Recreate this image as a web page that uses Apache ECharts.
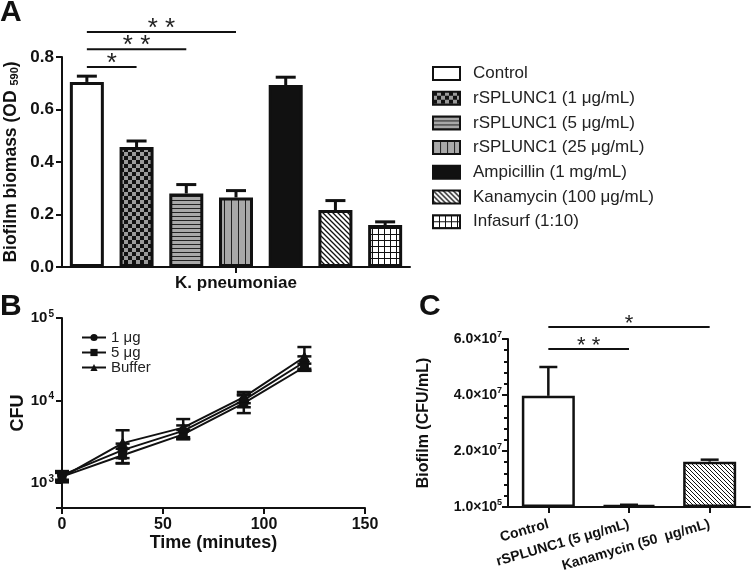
<!DOCTYPE html>
<html>
<head>
<meta charset="utf-8">
<script src="https://cdn.jsdelivr.net/npm/echarts@6/dist/echarts.min.js"></script>
<style>
  html, body { margin: 0; padding: 0; background: #fff; }
  #chart { width: 751px; height: 579px; }
</style>
</head>
<body>
<div id="chart"></div>
<script>
// ---- panel A : biofilm biomass ----
var groupsA = ['Control', 'rSPLUNC1 (1 μg/mL)', 'rSPLUNC1 (5 μg/mL)', 'rSPLUNC1 (25 μg/mL)',
               'Ampicillin (1 mg/mL)', 'Kanamycin (100 μg/mL)', 'Infasurf (1:10)'];
var meansA = [0.705, 0.457, 0.28, 0.265, 0.693, 0.217, 0.16];
var errA   = [0.022, 0.023, 0.034, 0.026, 0.030, 0.036, 0.012];
var sigA   = [[0, 1.3, 0.762, '*'], [0, 2.3, 0.83, '* *'], [0, 3.3, 0.895, '* *']];

// ---- panel B : growth curve ----
var timesB  = [0, 30, 60, 90, 120];
var namesB  = ['1 μg', '5 μg', 'Buffer'];
var cfu1    = [1250, 2510, 4300, 10100, 29300];
var cfu5    = [1200, 2180, 3900, 9300, 25500];
var cfuBuf  = [1180, 3050, 4700, 11000, 33700];
var err1    = [150, 500, 700, 1800, 5000];
var err5    = [170, 430, 500, 2250, 2500];
var errBuf  = [150, 1320, 1270, 1700, 10800];

// ---- panel C : biofilm CFU ----
var catsC  = ['Control', 'rSPLUNC1 (5 μg/mL)', 'Kanamycin (50  μg/mL)'];
var meansC = [3.97e7, 7e5, 1.62e7];
var errC   = [1.03e7, 1e5, 7e5];
var sigC   = [[0, 1.1, 5.64e7, '* *'], [0, 2, 6.43e7, '*']];

var FONT = 'Liberation Sans, Arial, sans-serif';

function tile(w, h, draw) {
  var c = document.createElement('canvas');
  c.width = w; c.height = h;
  var g = c.getContext('2d');
  draw(g, w, h);
  return { image: c, repeat: 'repeat' };
}
var patChecker = tile(8, 8, function (g) {
  g.fillStyle = '#9a9a9a'; g.fillRect(0, 0, 8, 8);
  g.fillStyle = '#111'; g.fillRect(0, 0, 4, 4); g.fillRect(4, 4, 4, 4);
});
var patH = tile(4, 4, function (g) {
  g.fillStyle = '#a8a8a8'; g.fillRect(0, 0, 4, 4);
  g.fillStyle = '#222'; g.fillRect(0, 0, 4, 1);
});
var patV = tile(7, 7, function (g) {
  g.fillStyle = '#a8a8a8'; g.fillRect(0, 0, 7, 7);
  g.fillStyle = '#222'; g.fillRect(0, 0, 1, 7);
});
function diag(step, lw) {
  return tile(step, step, function (g, w, h) {
    g.fillStyle = '#fff'; g.fillRect(0, 0, w, h);
    g.strokeStyle = '#111'; g.lineWidth = lw;
    g.beginPath();
    g.moveTo(-1, -1); g.lineTo(w + 1, h + 1);
    g.moveTo(-1, h - 1); g.lineTo(1, h + 1);
    g.moveTo(w - 1, -1); g.lineTo(w + 1, 1);
    g.stroke();
  });
}
var patGrid = tile(6, 6, function (g) {
  g.fillStyle = '#fff'; g.fillRect(0, 0, 6, 6);
  g.fillStyle = '#111'; g.fillRect(0, 0, 6, 1); g.fillRect(0, 0, 1, 6);
});
var fillsA = ['#ffffff', patChecker, patH, patV, '#111111', diag(5, 1.3), patGrid];

function sup(base, exp) { return '{b|' + base + '}{s|' + exp + '}'; }

var chart = echarts.init(document.getElementById('chart'));

var series = [];
groupsA.forEach(function (name, i) {
  series.push({
    type: 'bar', name: name, xAxisIndex: 1, yAxisIndex: 0,
    data: groupsA.map(function (_, j) { return j === i ? meansA[i] : '-'; }),
    barWidth: 34, barGap: '-100%',
    itemStyle: { color: fillsA[i], borderColor: '#111', borderWidth: 3 },
    silent: true
  });
});
series.push({
  type: 'custom', xAxisIndex: 1, yAxisIndex: 0, z: 1,
  data: meansA.map(function (m, i) { return [i, m, errA[i]]; }),
  renderItem: function (params, api) {
    var i = api.value(0), m = api.value(1), e = api.value(2);
    var p0 = api.coord([i, m]), p1 = api.coord([i, m + e]);
    var st = { stroke: '#111', lineWidth: 3 };
    return { type: 'group', children: [
      { type: 'line', shape: { x1: p0[0], y1: p0[1], x2: p1[0], y2: p1[1] }, style: st },
      { type: 'line', shape: { x1: p1[0] - 10, y1: p1[1], x2: p1[0] + 10, y2: p1[1] }, style: st }
    ] };
  }
});
function sigSeries(rows, xi, yi, gap, size) {
  return {
    type: 'custom', xAxisIndex: xi, yAxisIndex: yi, clip: false,
    data: rows.map(function (r) { return [r[0], r[1], r[2]]; }),
    renderItem: function (params, api) {
      var a = api.coord([api.value(0), api.value(2)]);
      var b = api.coord([api.value(1), api.value(2)]);
      return { type: 'group', children: [
        { type: 'line', shape: { x1: a[0], y1: a[1], x2: b[0], y2: b[1] }, style: { stroke: '#111', lineWidth: 2 } },
        { type: 'text', x: (a[0] + b[0]) / 2, y: a[1] - gap,
          style: { text: rows[params.dataIndex][3], fontFamily: FONT, fontSize: size, fill: '#222',
                   align: 'center', verticalAlign: 'middle' } }
      ] };
    }
  };
}
series.push(sigSeries(sigA, 1, 0, 3, 26));

var symbolsB = ['circle', 'rect', 'triangle'];
var sizesB = [9, 8, 10];
[cfu1, cfu5, cfuBuf].forEach(function (arr, k) {
  series.push({
    type: 'line', name: namesB[k], xAxisIndex: 2, yAxisIndex: 1,
    data: timesB.map(function (t, i) { return [t, arr[i]]; }),
    symbol: symbolsB[k], symbolSize: sizesB[k], showAllSymbol: true,
    lineStyle: { color: '#111', width: 2 },
    itemStyle: { color: '#111', borderColor: '#111' },
    silent: true, z: 3
  });
});
var errRowsB = [];
[[cfu1, err1], [cfu5, err5], [cfuBuf, errBuf]].forEach(function (p) {
  timesB.forEach(function (t, i) { errRowsB.push([t, p[0][i], p[1][i]]); });
});
series.push({
  type: 'custom', xAxisIndex: 2, yAxisIndex: 1, z: 2,
  data: errRowsB,
  renderItem: function (params, api) {
    var t = api.value(0), v = api.value(1), e = api.value(2);
    var hi = api.coord([t, v + e]), lo = api.coord([t, v - e]);
    var st = { stroke: '#111', lineWidth: 2.5 };
    return { type: 'group', children: [
      { type: 'line', shape: { x1: hi[0], y1: hi[1], x2: lo[0], y2: lo[1] }, style: st },
      { type: 'line', shape: { x1: hi[0] - 7, y1: hi[1], x2: hi[0] + 7, y2: hi[1] }, style: st },
      { type: 'line', shape: { x1: lo[0] - 7, y1: lo[1], x2: lo[0] + 7, y2: lo[1] }, style: st }
    ] };
  }
});

series.push({
  type: 'bar', xAxisIndex: 3, yAxisIndex: 2, barWidth: 53,
  data: meansC.map(function (v, i) {
    return { value: v, itemStyle: { color: i === 0 ? '#fff' : (i === 1 ? '#111' : diag(4, 1)) } };
  }),
  itemStyle: { borderColor: '#111', borderWidth: 2.5 },
  silent: true
});
series.push({
  type: 'custom', xAxisIndex: 3, yAxisIndex: 2, z: 3,
  data: meansC.map(function (m, i) { return [i, m, errC[i]]; }),
  renderItem: function (params, api) {
    var i = api.value(0), m = api.value(1), e = api.value(2);
    var p0 = api.coord([i, m]), p1 = api.coord([i, m + e]);
    var st = { stroke: '#111', lineWidth: 2.5 };
    return { type: 'group', children: [
      { type: 'line', shape: { x1: p0[0], y1: p0[1], x2: p1[0], y2: p1[1] }, style: st },
      { type: 'line', shape: { x1: p1[0] - 9, y1: p1[1], x2: p1[0] + 9, y2: p1[1] }, style: st }
    ] };
  }
});
series.push(sigSeries(sigC, 3, 2, 3, 22));

var axisLine = { show: true, lineStyle: { color: '#111', width: 2 } };
var axisTick = { show: true, length: 6, lineStyle: { color: '#111', width: 2 } };
var boldLab = { fontFamily: FONT, fontWeight: 'bold', fontSize: 16, color: '#111' };

var option = {
  animation: false,
  backgroundColor: '#fff',
  textStyle: { fontFamily: FONT },
  grid: [
    { left: 62, right: 341, top: 57, bottom: 312, outerBoundsMode: 'none' },
    { left: 62, right: 386, top: 318, bottom: 71, outerBoundsMode: 'none' },
    { left: 508, right: 1, top: 339, bottom: 72, outerBoundsMode: 'none' }
  ],
  xAxis: [
    { type: 'category', gridIndex: 0, data: ['K. pneumoniae'], axisLine: axisLine,
      axisTick: { show: true, alignWithLabel: true, length: 6, lineStyle: { color: '#111', width: 2 } },
      axisLabel: Object.assign({ margin: 8 }, boldLab, { fontSize: 17 }), splitLine: { show: false } },
    { type: 'category', gridIndex: 0, data: groupsA, show: false },
    { type: 'value', gridIndex: 1, min: 0, max: 150, interval: 50, axisLine: axisLine, axisTick: axisTick,
      axisLabel: Object.assign({ margin: 9 }, boldLab), splitLine: { show: false },
      name: 'Time (minutes)', nameLocation: 'middle', nameGap: 18,
      nameTextStyle: { fontFamily: FONT, fontWeight: 'bold', fontSize: 18, color: '#111' } },
    { type: 'category', gridIndex: 2, data: catsC, axisLine: axisLine,
      axisTick: { show: true, alignWithLabel: true, length: 6, lineStyle: { color: '#111', width: 2 } },
      axisLabel: Object.assign({ rotate: 16, margin: 17, interval: 0 }, boldLab, { fontSize: 14 }),
      splitLine: { show: false } }
  ],
  yAxis: [
    { type: 'value', gridIndex: 0, min: 0, max: 0.8, interval: 0.2, axisLine: axisLine, axisTick: axisTick,
      axisLabel: Object.assign({ margin: 8, formatter: function (v) { return v.toFixed(1); } }, boldLab, { fontSize: 17 }),
      splitLine: { show: false },
      name: '{t|Biofilm biomass (OD }{s|590}{t|)}', nameLocation: 'middle', nameGap: 42,
      nameTextStyle: { rich: {
        t: { fontFamily: FONT, fontWeight: 'bold', fontSize: 17.5, color: '#111' },
        s: { fontFamily: FONT, fontWeight: 'bold', fontSize: 11, color: '#111', verticalAlign: 'bottom', padding: [7, 0, 0, 0] } } } },
    { type: 'log', gridIndex: 1, logBase: 10, min: 500, max: 100000, axisLine: axisLine, axisTick: axisTick,
      axisLabel: { margin: 8, rich: {
          b: { fontFamily: FONT, fontWeight: 'bold', fontSize: 15, color: '#111' },
          s: { fontFamily: FONT, fontWeight: 'bold', fontSize: 10, color: '#111', verticalAlign: 'top', padding: [0, 0, 8, 1] } },
        formatter: function (v) {
          var e = Math.log10(v);
          if (Math.abs(e - Math.round(e)) > 1e-6) return '';
          return sup('10', Math.round(e));
        } },
      splitLine: { show: false }, minorTick: { show: false },
      name: 'CFU', nameLocation: 'middle', nameGap: 34,
      nameTextStyle: { fontFamily: FONT, fontWeight: 'bold', fontSize: 18, color: '#111' } },
    { type: 'value', gridIndex: 2, min: 0, max: 6e7, interval: 2e7, axisLine: axisLine, axisTick: axisTick,
      minorTick: { show: true, splitNumber: 5, length: 4, lineStyle: { color: '#111', width: 2 } },
      axisLabel: { margin: 6, rich: {
          b: { fontFamily: FONT, fontWeight: 'bold', fontSize: 14, color: '#111' },
          s: { fontFamily: FONT, fontWeight: 'bold', fontSize: 9, color: '#111', verticalAlign: 'top', padding: [0, 0, 8, 0] } },
        formatter: function (v) {
          if (v === 0) return sup('1.0×10', 5);
          return sup((v / 1e7).toFixed(1) + '×10', 7);
        } },
      splitLine: { show: false },
      name: 'Biofilm (CFU/mL)', nameLocation: 'middle', nameGap: 76,
      nameTextStyle: { fontFamily: FONT, fontWeight: 'bold', fontSize: 16, color: '#111' } }
  ],
  legend: [
    { data: groupsA, orient: 'vertical', left: 432, top: 65, icon: 'rect', padding: 0,
      itemWidth: 27, itemHeight: 13, itemGap: 7.7,
      textStyle: { fontFamily: FONT, fontSize: 17, lineHeight: 17, color: '#222', padding: [0, 0, 0, 8] } },
    { data: namesB, orient: 'vertical', left: 76, top: 325,
      itemWidth: 24, itemHeight: 9, itemGap: 0,
      textStyle: { fontFamily: FONT, fontSize: 15, color: '#222' } }
  ],
  graphic: [
    { type: 'text', left: 0, top: -2, style: { text: 'A', fontFamily: FONT, fontWeight: 'bold', fontSize: 30, fill: '#111' } },
    { type: 'text', left: 0, top: 292, style: { text: 'B', fontFamily: FONT, fontWeight: 'bold', fontSize: 30, fill: '#111' } },
    { type: 'text', left: 419, top: 292, style: { text: 'C', fontFamily: FONT, fontWeight: 'bold', fontSize: 30, fill: '#111' } }
  ],
  series: series
};
chart.setOption(option);
</script>
</body>
</html>
